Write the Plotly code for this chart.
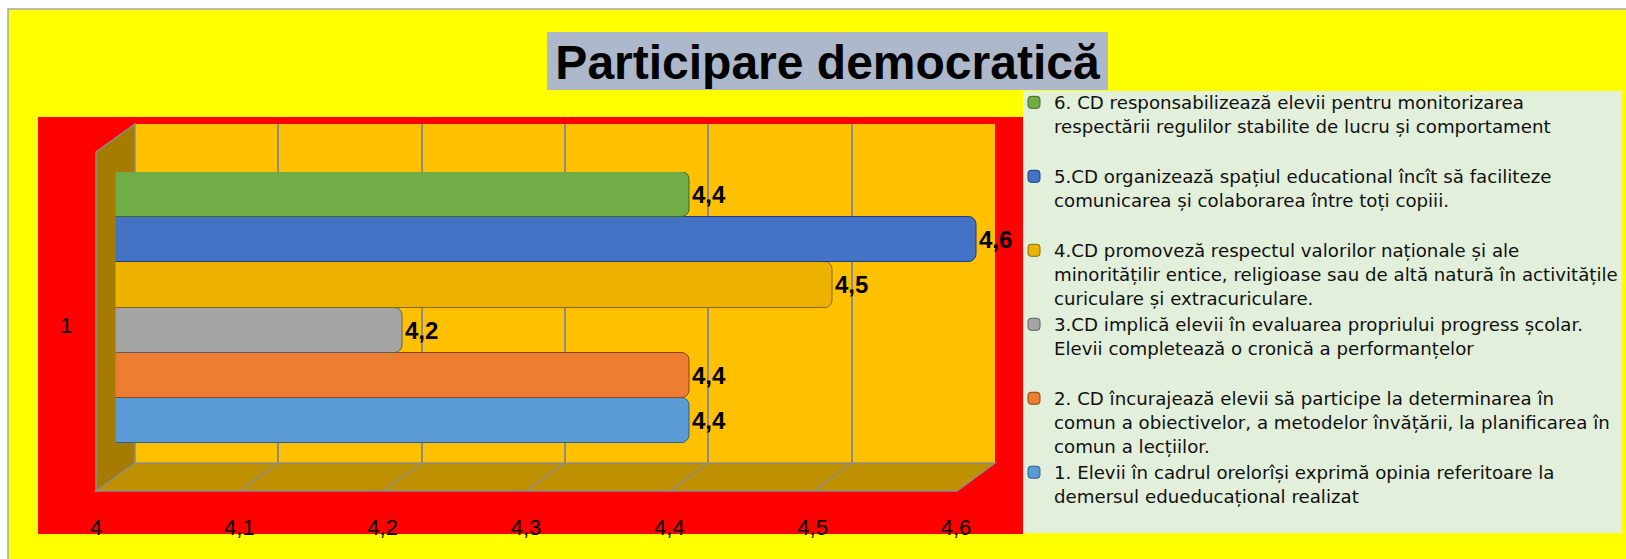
import plotly.graph_objects as go

# ---------------- data ----------------
CATEGORIES = ["1"]
SERIES_NAMES = [
    "1. Elevii în cadrul orelorîși exprimă opinia referitoare la<br>demersul edueducațional realizat<br> ",
    "2. CD încurajează elevii să participe la determinarea în<br>comun a obiectivelor, a metodelor învățării, la planificarea în<br>comun a lecțiilor.",
    "3.CD implică elevii în evaluarea propriului progress școlar.<br>Elevii completează o cronică a performanțelor<br> ",
    "4.CD promoveză respectul valorilor naționale și ale<br>minoritățilir entice, religioase sau de altă natură în activitățile<br>curiculare și extracuriculare.",
    "5.CD organizează spațiul educational încît să faciliteze<br>comunicarea și colaborarea între toți copiii.<br> ",
    "6. CD responsabilizează elevii pentru monitorizarea<br>respectării regulilor stabilite de lucru și comportament<br> ",
]
SERIES_VALUES = [4.4, 4.4, 4.2, 4.5, 4.6, 4.4]
SERIES_COLORS = ["#5B9BD5", "#ED7D31", "#A5A5A5", "#EDB200", "#4472C4", "#70AD47"]
SERIES_EDGES = ["#2F5F8A", "#8A4416", "#5E5E5E", "#8A6800", "#223F75", "#3F6B27"]
X_TICKS = [4.0, 4.1, 4.2, 4.3, 4.4, 4.5, 4.6]
TITLE = "Participare democratică"

# ---------------- layout helpers (pixel -> paper) ----------------
W, H = 1626, 559


def px(x):
    return x / W


def py(y):
    return 1 - y / H


# 3D box geometry (pixels)
BACK_L, BACK_R, BACK_T, BACK_B = 135, 995, 124, 463
FRONT_L, FRONT_R, FRONT_B = 96, 957, 491
BAR_L, BAR_R = 115.5, 976          # value 4 -> BAR_L, 4.6 -> BAR_R
BAR_T, BAR_B = 172, 443
XMIN, XMAX = X_TICKS[0], X_TICKS[-1]
bar_scale = (BAR_R - BAR_L) / (XMAX - XMIN)
BAR_XMAX = 4.68                     # extra room so outside labels are not clipped

fig = go.Figure()

# empty trace that only makes the back-wall subplot (grid + tick labels) render
fig.add_trace(go.Scatter(x=X_TICKS, y=[None] * len(X_TICKS), mode="markers",
                         showlegend=False, hoverinfo="skip", xaxis="x", yaxis="y"))

for name, val, col, edge in zip(SERIES_NAMES, SERIES_VALUES, SERIES_COLORS, SERIES_EDGES):
    fig.add_trace(go.Bar(
        y=CATEGORIES, x=[val], name=name, orientation="h",
        marker=dict(color=col, line=dict(width=1, color=edge), cornerradius=8),
        texttemplate="<b>%{x:.1f}</b>", textposition="outside",
        constraintext="none", cliponaxis=True,
        textfont=dict(family="Liberation Sans", size=24, color="black"),
        xaxis="x2", yaxis="y2", hoverinfo="x+name",
    ))


def path(points):
    s = "M " + " L ".join(f"{px(x)},{py(y)}" for x, y in points) + " Z"
    return s


GREY = "#8C8C8C"
shapes = [
    # chart area
    dict(type="rect", xref="paper", yref="paper", x0=px(8), x1=px(1640), y0=py(575), y1=py(9),
         fillcolor="#FFFF00", line=dict(color="#A6A6A6", width=1.5), layer="below"),
    # plot area (red)
    dict(type="rect", xref="paper", yref="paper", x0=px(38), x1=px(1023), y0=py(534), y1=py(117),
         fillcolor="#FF0000", line=dict(width=0), layer="below"),
    # legend box
    dict(type="rect", xref="paper", yref="paper", x0=px(1023), x1=px(1622), y0=py(533), y1=py(91),
         fillcolor="#E2EFDA", line=dict(width=0), layer="below"),
    # title box
    dict(type="rect", xref="paper", yref="paper", x0=px(547), x1=px(1108), y0=py(90), y1=py(32),
         fillcolor="#ADB9CA", line=dict(width=0), layer="below"),
    # back wall
    dict(type="rect", xref="paper", yref="paper", x0=px(BACK_L), x1=px(BACK_R), y0=py(BACK_B), y1=py(BACK_T),
         fillcolor="#FFC000", line=dict(width=0), layer="below"),
    # left wall
    dict(type="path", xref="paper", yref="paper",
         path=path([(FRONT_L, 152), (BACK_L, BACK_T), (BACK_L, BACK_B), (FRONT_L, FRONT_B)]),
         fillcolor="#A67C00", line=dict(color=GREY, width=1.5), layer="below"),
    # floor
    dict(type="path", xref="paper", yref="paper",
         path=path([(FRONT_L, FRONT_B), (BACK_L, BACK_B), (BACK_R, BACK_B), (FRONT_R, FRONT_B)]),
         fillcolor="#BF9000", line=dict(color=GREY, width=1.5), layer="below"),
]
# floor grid lines (from back-wall tick to front tick)
for t in X_TICKS[1:-1]:
    f = (t - XMIN) / (XMAX - XMIN)
    shapes.append(dict(type="line", xref="paper", yref="paper",
                       x0=px(BACK_L + f * (BACK_R - BACK_L)), y0=py(BACK_B),
                       x1=px(FRONT_L + f * (FRONT_R - FRONT_L)), y1=py(FRONT_B),
                       line=dict(color=GREY, width=1.5), layer="below"))

fig.update_layout(
    width=W, height=H, autosize=False,
    margin=dict(l=0, r=0, t=0, b=0, pad=0, autoexpand=False),
    paper_bgcolor="#FFFFFF", plot_bgcolor="rgba(0,0,0,0)",
    separators=", ",
    barmode="group", bargap=0, bargroupgap=0,
    shapes=shapes,
    title=dict(text=f"<b>{TITLE}</b>", x=px(827.5), xanchor="center", y=py(62), yanchor="middle",
               font=dict(family="Liberation Sans", size=48, color="black")),
    # back wall axis: grid lines + tick labels (shifted to the front edge)
    xaxis=dict(domain=[px(BACK_L), px(BACK_R)], range=[XMIN, XMAX], tickvals=X_TICKS,
               showgrid=True, gridcolor=GREY, gridwidth=1.5, zeroline=False, showline=False,
               ticks="", ticklabelshift=FRONT_L - BACK_L, ticklabelstandoff=49,
               tickfont=dict(family="Liberation Sans Narrow, Liberation Sans", size=22, color="black"),
               fixedrange=True, anchor="y", automargin=False),
    yaxis=dict(domain=[py(BACK_B), py(BACK_T)], range=[0, 1], showgrid=False, zeroline=False,
               showticklabels=False, showline=False, ticks="", fixedrange=True, anchor="x"),
    # bar axis
    xaxis2=dict(domain=[px(BAR_L), px(BAR_L + (BAR_XMAX - XMIN) * bar_scale)], range=[XMIN, BAR_XMAX],
                visible=False, anchor="y2", fixedrange=True),
    yaxis2=dict(domain=[py(BAR_B), py(BAR_T)], type="category", anchor="x2",
                showgrid=False, zeroline=False, showline=False, ticks="",
                ticklabelshift=18, ticklabelstandoff=42, automargin=False,
                tickfont=dict(family="Liberation Sans Narrow, Liberation Sans", size=22, color="black"),
                fixedrange=True),
    legend=dict(x=px(1014), y=py(84), xanchor="left", yanchor="top",
                bgcolor="rgba(0,0,0,0)", borderwidth=0, traceorder="reversed", valign="top",
                font=dict(family="DejaVu Sans", size=18.2, color="#111111"),
                tracegroupgap=0),
    showlegend=True,
)

fig.write_html("out.html", config={"displayModeBar": False},
               post_script="document.body.style.margin='0';document.body.style.overflow='hidden';")
